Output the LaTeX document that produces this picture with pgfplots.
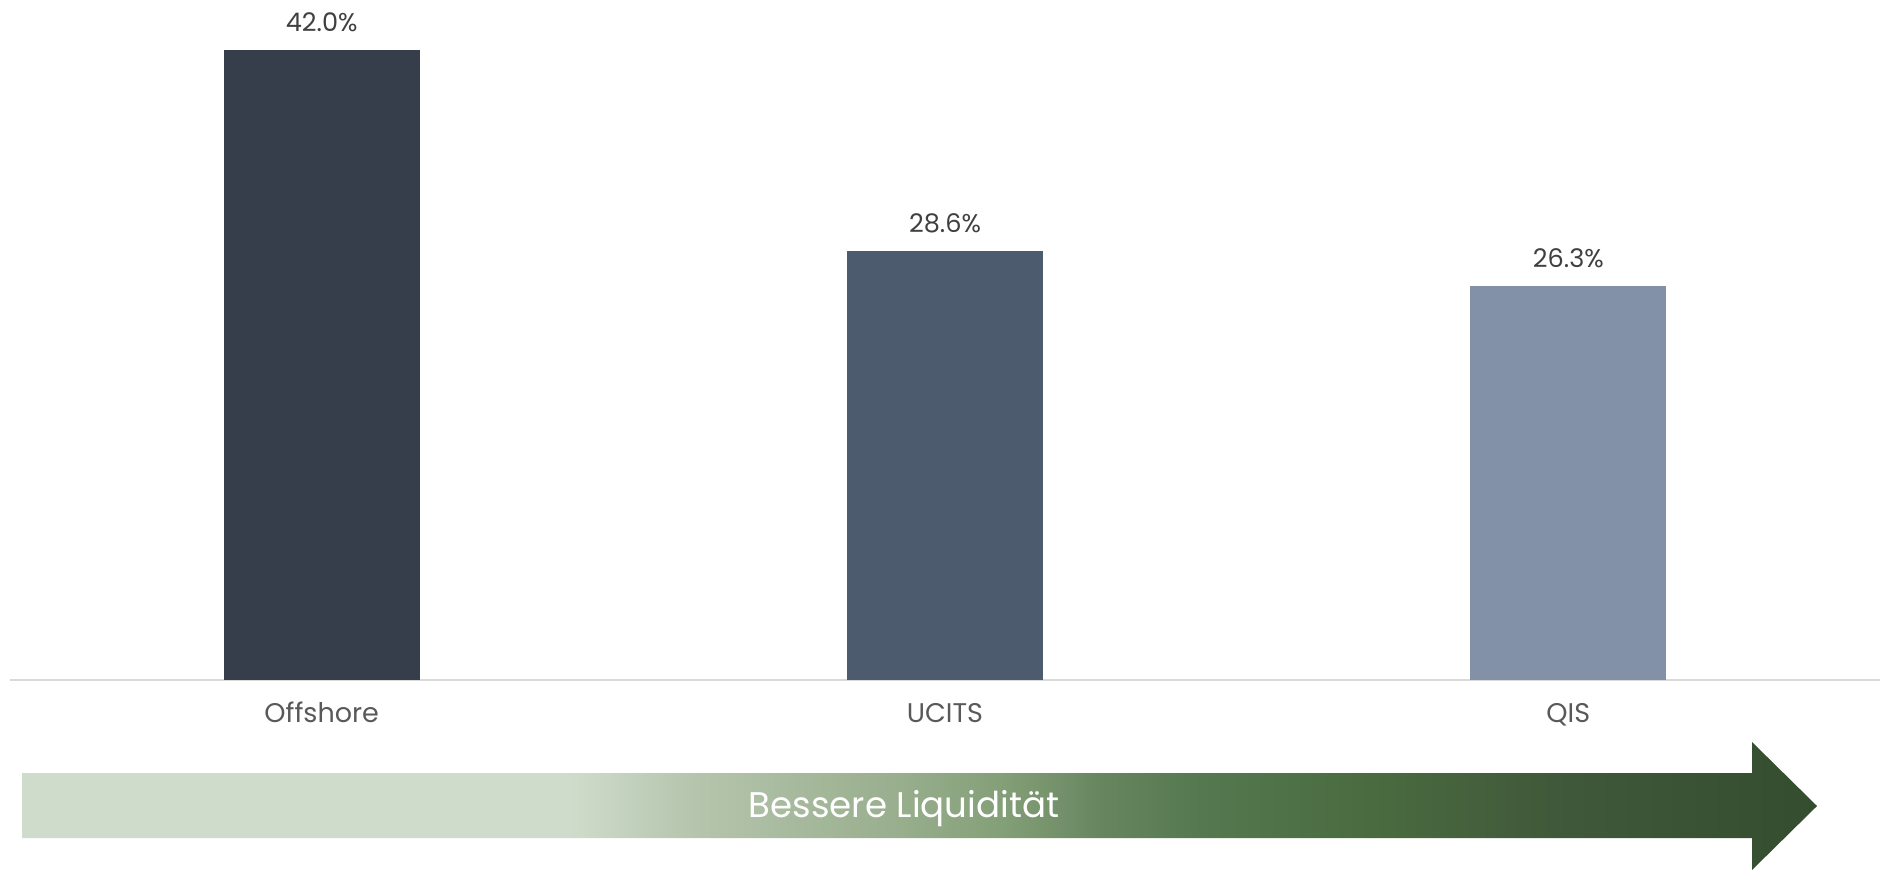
\documentclass[border=0pt]{standalone}
\usepackage{fontspec}
\setmainfont{Poppins}
\usepackage{pgfplots}
\pgfplotsset{compat=1.18}
\definecolor{cOff}{HTML}{363D4B}
\definecolor{cUci}{HTML}{4D5B6F}
\definecolor{cQis}{HTML}{8290A8}
\definecolor{axgray}{HTML}{D9D9D9}
\definecolor{valgray}{HTML}{404040}
\definecolor{tickgray}{HTML}{595959}
\pgfdeclarehorizontalshading{liqshade}{100bp}{%
rgb(0bp)=(0.812,0.863,0.796);
rgb(25bp)=(0.812,0.863,0.796);
rgb(40.26bp)=(0.812,0.863,0.796);
rgb(43.33bp)=(0.718,0.780,0.690);
rgb(46.67bp)=(0.651,0.725,0.612);
rgb(49.46bp)=(0.596,0.682,0.553);
rgb(52.24bp)=(0.518,0.627,0.471);
rgb(55.03bp)=(0.404,0.525,0.376);
rgb(57.81bp)=(0.333,0.471,0.314);
rgb(62.55bp)=(0.290,0.420,0.251);
rgb(67.56bp)=(0.251,0.349,0.227);
rgb(75bp)=(0.208,0.302,0.184);
rgb(100bp)=(0.208,0.302,0.184)}
\begin{document}
\begin{tikzpicture}
\useasboundingbox (0pt,0pt) rectangle (941.5pt,434.5pt);
\begin{axis}[
  at={(5pt,94.5pt)}, anchor=south west,
  scale only axis, width=935pt, height=340pt,
  xmin=-0.5, xmax=2.5, ymin=0, ymax=45.333,
  axis x line=bottom, axis y line=none,
  x axis line style={-, draw=axgray, line width=1pt},
  xtick={0,1,2}, xticklabels={Offshore,UCITS,QIS},
  major tick length=0pt,
  xticklabel style={anchor=base, yshift=-21pt, inner sep=0pt, font=\fontsize{13.5}{16}\selectfont, text=tickgray},
  ybar, bar width=98pt, bar shift=0pt,
  clip=false,
  /pgf/number format/assume math mode=true,
  nodes near coords={\pgfmathprintnumber[fixed,fixed zerofill,precision=1,assume math mode=true]{\pgfplotspointmeta}\%},
  nodes near coords style={anchor=base, yshift=9pt, inner sep=0pt, font=\fontsize{12.8}{15}\selectfont, text=valgray},
]
\addplot[fill=cOff, draw=none] coordinates {(0,42.0)};
\addplot[fill=cUci, draw=none] coordinates {(1,28.6)};
\addplot[fill=cQis, draw=none] coordinates {(2,26.3)};
\end{axis}
\shade[shading=liqshade] (11pt,48pt) -- (876pt,48pt) -- (876pt,63.5pt) -- (908.5pt,31.5pt) -- (876pt,-0.5pt) -- (876pt,15.5pt) -- (11pt,15.5pt) -- cycle;
\node[anchor=base, text=white, inner sep=0pt, font=\fontsize{17.8}{21}\selectfont] at (452pt,26pt) {Bessere Liquidität};
\end{tikzpicture}
\end{document}
